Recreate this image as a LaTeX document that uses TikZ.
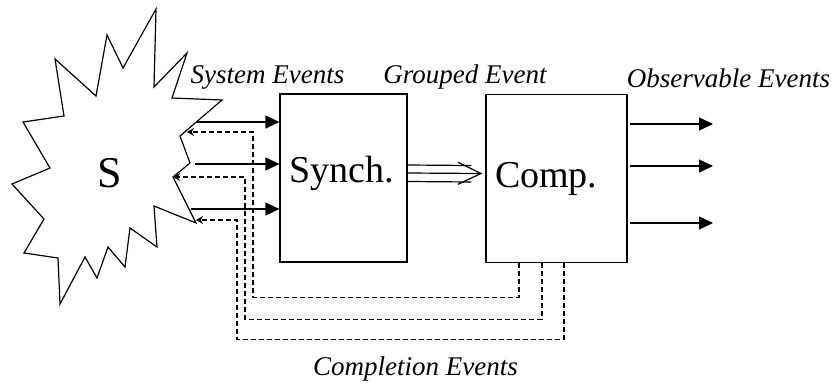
\documentclass[tikz,border=0pt]{standalone}
\usepackage{fontspec}
\setmainfont{Liberation Serif}
\usetikzlibrary{arrows.meta}

\begin{document}
\begin{tikzpicture}[x=1pt,y=-1pt,line width=1.2pt,
    block/.style={draw,minimum height=168pt,align=left,inner xsep=9pt,
      font=\fontsize{38}{44}\selectfont},
    tag/.style={anchor=base,font=\fontsize{27}{32}\selectfont\itshape},
    fwd/.style={-{Triangle[length=14pt,width=13pt]}},
    back/.style={dash pattern=on 5pt off 3pt,-{Stealth[length=7pt,width=8pt]}}]
  \useasboundingbox (0,0) rectangle (835,383);
  % the system S
  \draw (156,9) -- (154,87) -- (187,53) -- (172,98) -- (222,100) -- (180,136)
    -- (190,163) -- (173,177) -- (196,223) -- (154,206) -- (157,247) -- (130,228)
    -- (125,267) -- (108,247) -- (97,278) -- (85,257) -- (60,304) -- (58,258)
    -- (24,253) -- (44,219) -- (12,184) -- (50,168) -- (23,122) -- (64,116)
    -- (55,59) -- (96,96) -- (107,35) -- (123,68) -- cycle;
  \node[font=\fontsize{44}{50}\selectfont,anchor=base] (s) at (110,187) {S};
  \coordinate (e1) at (197,122);
  \coordinate (e2) at (195,164);
  \coordinate (e3) at (191,209);
  \coordinate (r1) at (187,132);
  \coordinate (r2) at (173,177);
  \coordinate (r3) at (196,220);

  \node[block,text width=109pt,text depth=18pt] (synch) at (343.5,178) {Synch.};
  \node[block,text width=123pt] (comp) at (556.5,178.5) {Comp.};

  % system events in
  \draw[fwd] (e1) -- (e1 -| synch.west);
  \draw[fwd] (e2) -- (e2 -| synch.west);
  \draw[fwd] (e3) -- (e3 -| synch.west);

  % grouped event
  \draw[-{Straight Barb[length=23pt,width=22pt]}] ([yshift=5pt]synch.east) -- ([xshift=-3pt,yshift=5pt]comp.west);
  \draw ([yshift=13pt]synch.east) -- ([xshift=-14pt,yshift=13pt]comp.west);
  \draw ([yshift=-3.5pt]synch.east) -- ([xshift=-14pt,yshift=-3.5pt]comp.west);

  % observable events out
  \coordinate (o1) at (713,124);
  \coordinate (o2) at (713,166);
  \coordinate (o3) at (713,223);
  \draw[fwd] ([xshift=2pt]o1 -| comp.east) -- (o1);
  \draw[fwd] ([xshift=2pt]o2 -| comp.east) -- (o2);
  \draw[fwd] ([xshift=2pt]o3 -| comp.east) -- (o3);

  % completion events back to S
  \draw[back] ([xshift=-37.5pt]comp.south) -- ++(0,34) -- ++(-266,0) |- (r1);
  \draw[back] ([xshift=-14.5pt]comp.south) -- ++(0,56) -- ++(-297,0) |- (r2);
  \draw[back] ([xshift=7.5pt]comp.south) -- ++(0,76) -- ++(-327,0) |- (r3);

  \node[tag] (sysev) at (267.5,83) {System Events};
  \node[tag] (grpev) at (465,83) {Grouped Event};
  \node[tag] (obsev) at (728.5,87) {Observable Events};
  \node[tag] (cmpev) at (415.5,375) {Completion Events};
\end{tikzpicture}
\end{document}
